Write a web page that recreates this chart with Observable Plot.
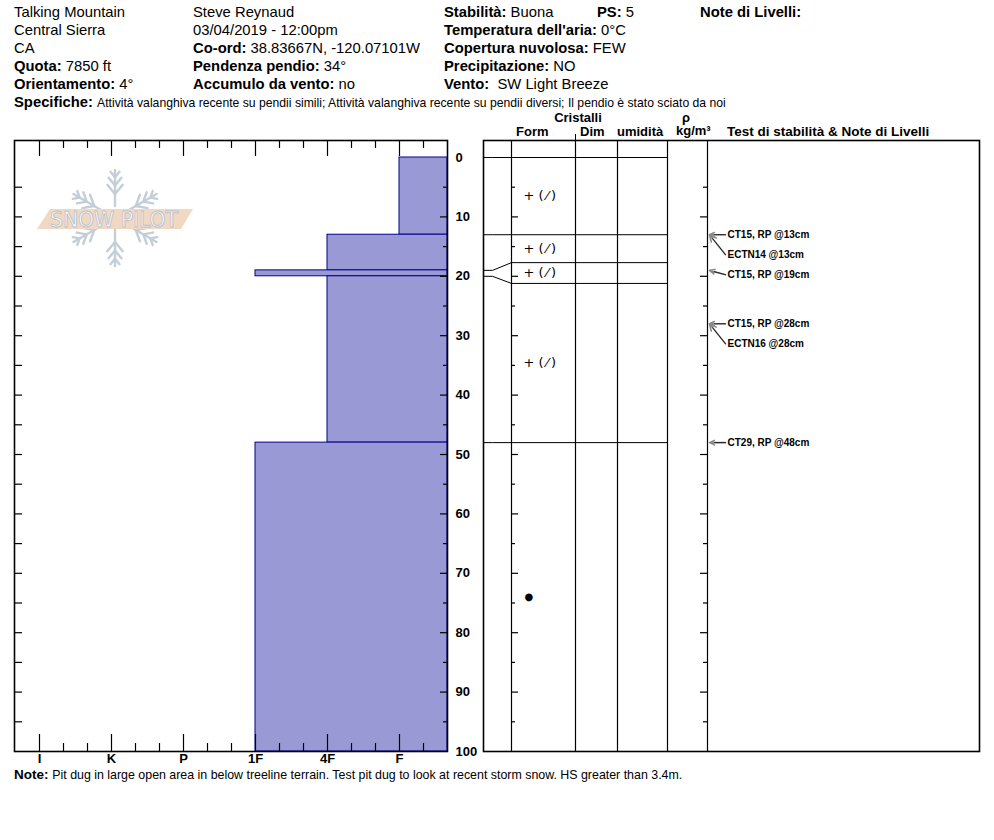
<!DOCTYPE html>
<html><head><meta charset="utf-8">
<script src="https://cdn.jsdelivr.net/npm/d3@7"></script>
<script src="https://cdn.jsdelivr.net/npm/@observablehq/plot@0.6"></script>
<style>
body{margin:0;background:#fff;font-family:"Liberation Sans",Arial,sans-serif;}
#page{position:relative;width:994px;height:840px;overflow:hidden;background:#fff;}
.t{position:absolute;white-space:nowrap;font-size:14.8px;line-height:16px;color:#000;}
.b{font-weight:bold;}
.h{position:absolute;white-space:nowrap;font-size:13px;line-height:13px;font-weight:bold;color:#000;}
.plot{position:absolute;}
</style></head><body><div id="page"></div>
<script>
// ---------- DATA ----------
const headerCol1 = [["", "Talking Mountain"], ["", "Central Sierra"], ["", "CA"], ["Quota:", "7850 ft"], ["Orientamento:", "4°"]];
const headerCol2 = [["", "Steve Reynaud"], ["", "03/04/2019 - 12:00pm"], ["Co-ord:", "38.83667N, -120.07101W"], ["Pendenza pendio:", "34°"], ["Accumulo da vento:", "no"]];
const headerCol3 = [["Stabilità:", "Buona"], ["Temperatura dell'aria:", "0°C"], ["Copertura nuvolosa:", "FEW"], ["Precipitazione:", "NO"], ["Vento:", "\u00a0SW Light Breeze"]];
const psLabel = ["PS:", "5"];
const layerNotesTitle = "Note di Livelli:";
const specifiche = ["Specifiche:", "Attività valanghiva recente su pendii simili;  Attività valanghiva recente su pendii diversi;  Il pendio è stato sciato da noi"];
const noteText = ["Note:", "Pit dug in large open area in below treeline terrain. Test pit dug to look at recent storm snow. HS greater than 3.4m."];

const hardnessScale = ["I", "K", "P", "1F", "4F", "F"];
const layerTop = [0, 13, 19, 20, 48];
const layerBottom = [13, 19, 20, 48, 100];
const layerHardness = ["F", "4F", "1F", "4F", "1F"];
const layerForm = ["+ (\u2009\u2044\u2009)", "+ (\u2009\u2044\u2009)", "+ (\u2009\u2044\u2009)", "+ (\u2009\u2044\u2009)", "\u25CF"];
const boundaryDepth = [0, 13, 19, 20, 48];
const boundaryShown = [0, 13, 17.7, 21.2, 48];
const testText = ["CT15, RP @13cm", "ECTN14 @13cm", "CT15, RP @19cm", "CT15, RP @28cm", "ECTN16 @28cm", "CT29, RP @48cm"];
const testDepth = [13, 13, 19, 28, 28, 48];
const depthLabels = d3.range(0, 101, 10);
const depthMinor = d3.range(5, 100, 5);
const columnHeaders = ["Cristalli", "Form", "Dim", "umidità", "\u03C1", "kg/m\u00B3", "Test di stabilità & Note di Livelli"];

// ---------- LAYOUT ----------
const page = document.getElementById("page");
function addText(x, yc, label, value, opts = {}) {
  const d = document.createElement("div");
  d.className = "t";
  d.style.left = x + "px";
  d.style.top = (yc - 8) + "px";
  if (label) { const s = document.createElement("span"); s.className = "b"; s.textContent = label + " "; if (opts.labelSize) s.style.fontSize = opts.labelSize; d.appendChild(s); }
  const v = document.createElement("span"); v.textContent = value; if (opts.valueSize) v.style.fontSize = opts.valueSize; d.appendChild(v);
  page.appendChild(d);
  return d;
}
const rowY = [12, 30, 48, 66, 84];
headerCol1.forEach(([l, v], i) => addText(14, rowY[i], l, v));
headerCol2.forEach(([l, v], i) => addText(193, rowY[i], l, v));
headerCol3.forEach(([l, v], i) => addText(444, rowY[i], l, v));
addText(597, rowY[0], psLabel[0], psLabel[1]);
addText(700, rowY[0], layerNotesTitle, "").querySelector("span").style.fontWeight = "bold";
addText(14, 102, specifiche[0], specifiche[1], {valueSize: "12.2px"});
addText(14, 774, noteText[0], noteText[1], {labelSize: "13.5px", valueSize: "12.4px"});

function addHeader(text, x, yc, anchor, size) {
  const d = document.createElement("div");
  d.className = "h"; d.textContent = text;
  d.style.top = (yc - 6.5) + "px";
  d.style.left = x + "px";
  if (size) d.style.fontSize = size;
  if (anchor === "middle") d.style.transform = "translateX(-50%)";
  page.appendChild(d);
}
addHeader(columnHeaders[0], 578, 117, "middle");
addHeader(columnHeaders[1], 516, 131);
addHeader(columnHeaders[2], 580, 131);
addHeader(columnHeaders[3], 617, 131);
addHeader(columnHeaders[4], 686, 117, "middle");
addHeader(columnHeaders[5], 676, 130.5);
addHeader(columnHeaders[6], 727, 131, null, "13.5px");

// shared depth geometry
const pxPerCm = 5.94;
const yTop = -17 / pxPerCm;
const stepPx = 72;
const xLeft = 6 + 25 / stepPx, xRight = 1 / 3;
const hv = l => 6 - hardnessScale.indexOf(l);
const font = "Liberation Sans, Arial, sans-serif";

const layers = layerTop.map((t, i) => ({top: t, bottom: layerBottom[i], h: hv(layerHardness[i]), form: layerForm[i],
  sTop: boundaryShown[i], sBottom: i + 1 < boundaryShown.length ? boundaryShown[i + 1] : layerBottom[i]}));
const majors = hardnessScale.map(hv);
const minors = d3.range(1, 19).map(k => 6 - k / 3).filter(v => Math.abs(v - Math.round(v)) > 1e-6 && v > 0.5);

const left = Plot.plot({
  width: 480, height: 641, marginLeft: 14, marginRight: 33, marginTop: 10, marginBottom: 20,
  x: {domain: [xLeft, xRight]},
  y: {domain: [yTop, 100], reverse: true},
  style: {fontFamily: font, background: "transparent", overflow: "visible"},
  marks: [
    Plot.rectX(layers, {x1: d => d.h, x2: () => xRight, y1: "top", y2: "bottom", fill: "#9999d6", stroke: "#00008c", strokeWidth: 1}),
    Plot.ruleY(depthMinor, {y: d => d, x1: () => xLeft, x2: () => xLeft - 8 / stepPx, stroke: "#000", strokeWidth: 1.2}),
    Plot.ruleY(depthMinor, {y: d => d, x1: () => xRight, x2: d => xRight + (d % 10 === 0 ? 7 : 4) / stepPx, stroke: "#000", strokeWidth: 1.2}),
    Plot.ruleX(majors, {x: d => d, y1: () => yTop, y2: () => yTop + 16 / pxPerCm, stroke: "#000", strokeWidth: 1.2}),
    Plot.ruleX(minors, {x: d => d, y1: () => yTop, y2: () => yTop + 8 / pxPerCm, stroke: "#000", strokeWidth: 1.2}),
    Plot.ruleX(majors, {x: d => d, y1: () => 100, y2: () => 100 - 17 / pxPerCm, stroke: "#000", strokeWidth: 1.2}),
    Plot.ruleX(minors, {x: d => d, y1: () => 100, y2: () => 100 - 8 / pxPerCm, stroke: "#000", strokeWidth: 1.2}),
    Plot.frame({stroke: "#000", strokeWidth: 1.6}),
    Plot.axisY({ticks: depthLabels, anchor: "right", tickSize: 0, tickPadding: 8, fontWeight: "bold", fontSize: 13, label: null}),
    Plot.axisX({ticks: majors, anchor: "bottom", tickSize: 0, tickPadding: 2.5, tickFormat: v => hardnessScale[6 - Math.round(v)], fontWeight: "bold", fontSize: 13, label: null})
  ]
});
left.classList.add("plot"); left.style.left = "0px"; left.style.top = "130px";
page.appendChild(left);

// right table panel
const cols = [28, 92, 134, 184, 224];
const boundaryPts = boundaryDepth.flatMap((d, i) => [
  {i, x: 0, y: d}, {i, x: 9, y: d}, {i, x: 28, y: boundaryShown[i]}, {i, x: 184, y: boundaryShown[i]}]);
let prev = -Infinity;
const tests = testText.map((t, i) => { const ly = Math.max(testDepth[i], prev + 20 / pxPerCm); prev = ly; return {text: t, depth: testDepth[i], ly}; });

const right = Plot.plot({
  width: 516, height: 641, marginLeft: 10, marginRight: 10, marginTop: 10, marginBottom: 20,
  x: {domain: [0, 496], axis: null},
  y: {domain: [yTop, 100], reverse: true, axis: null},
  style: {fontFamily: font, background: "transparent", overflow: "visible"},
  marks: [
    Plot.ruleX(cols, {x: d => d, y1: () => yTop, y2: () => 100, stroke: "#000", strokeWidth: 1.2}),
    Plot.ruleX([92], {x: d => d, y1: () => yTop - 6 / pxPerCm, y2: () => yTop, stroke: "#000", strokeWidth: 1}),
    Plot.line(boundaryPts, {x: "x", y: "y", z: "i", stroke: "#000", strokeWidth: 1}),
    Plot.ruleY(depthMinor, {y: d => d, x1: () => 28, x2: d => 28 + (d % 10 === 0 ? 7 : 4), stroke: "#000", strokeWidth: 1.2}),
    Plot.ruleY(depthMinor, {y: d => d, x1: () => 224, x2: d => 224 - (d % 10 === 0 ? 7 : 4), stroke: "#000", strokeWidth: 1.2}),
    Plot.text(layers, {x: d => d.form === "\u25CF" ? 41 : 40, y: d => (d.sTop + d.sBottom) / 2, text: "form", textAnchor: "start",
      fontSize: d => d.form === "\u25CF" ? 10 : 13, fontFamily: "DejaVu Sans", fill: "#000"}),
    Plot.arrow(tests, {x1: () => 242, y1: "ly", x2: () => 226, y2: "depth", stroke: "#8a8a8a", strokeWidth: 1.6, headLength: 7, headAngle: 50}),
    Plot.arrow(tests, {x1: () => 242, y1: "ly", x2: () => 226, y2: "depth", stroke: "#000", strokeWidth: 0.8, headLength: 0, insetEnd: 5}),
    Plot.text(tests, {x: () => 244, y: "ly", text: "text", textAnchor: "start", fontSize: 10, fontWeight: "bold", fill: "#000"}),
    Plot.frame({stroke: "#000", strokeWidth: 1.6})
  ]
});
right.classList.add("plot"); right.style.left = "473px"; right.style.top = "130px";
page.appendChild(right);

// SnowPilot watermark logo (decoration)
const logo = d3.create("svg").attr("width", 994).attr("height", 840)
  .style("position", "absolute").style("left", 0).style("top", 0).style("pointer-events", "none");
const cx = 115, cy = 218, L = 48;
const flake = logo.append("g").attr("stroke", "#c3ced8").attr("stroke-width", 2.4).attr("stroke-linecap", "round").attr("fill", "none");
[90, 270, 30, 150, 210, 330].forEach(a => {
  const r = a * Math.PI / 180, ux = Math.cos(r), uy = -Math.sin(r);
  flake.append("line").attr("x1", cx + ux * 12).attr("y1", cy + uy * 12).attr("x2", cx + ux * L).attr("y2", cy + uy * L);
  [[0.5, 12], [0.68, 10], [0.85, 7]].forEach(([t, bl]) => {
    const px = cx + ux * L * t, py = cy + uy * L * t;
    [40, -40].forEach(b => {
      const rb = (a + b) * Math.PI / 180;
      flake.append("line").attr("x1", px).attr("y1", py).attr("x2", px + Math.cos(rb) * bl).attr("y2", py - Math.sin(rb) * bl);
    });
  });
});
logo.append("polygon").attr("points", "50,209 193,209 181,229 37,229").attr("fill", "#f0d8c2");
logo.append("text").attr("x", 50).attr("y", 227).attr("textLength", 128).attr("lengthAdjust", "spacingAndGlyphs")
  .attr("font-family", "DejaVu Sans, sans-serif").attr("font-size", 21)
  .attr("fill", "#ffffff").attr("stroke", "#b9c2cb").attr("stroke-width", 0.9).text("SNOW PILOT");
page.appendChild(logo.node());
</script></body></html>
